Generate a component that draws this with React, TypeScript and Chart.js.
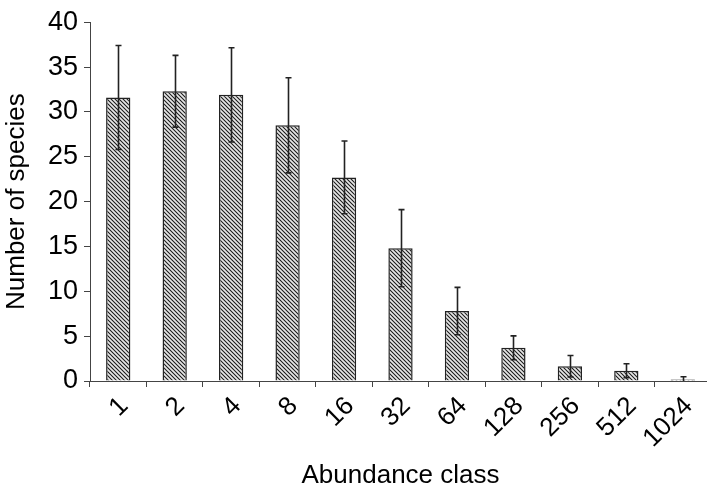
import React, { useEffect, useRef } from "react";
import { Chart, registerables } from "chart.js";

Chart.register(...registerables);

const categories = ["1", "2", "4", "8", "16", "32", "64", "128", "256", "512", "1024"];
const meanSpecies = [31.6, 32.3, 31.9, 28.5, 22.7, 14.8, 7.8, 3.7, 1.65, 1.15, 0.18];
const errorSpecies = [5.8, 4.0, 5.25, 5.3, 4.05, 4.3, 2.64, 1.33, 1.2, 0.77, 0.3];
const yMin = 0;
const yMax = 40;
const yStep = 5;

const FONT = "'Liberation Sans', Arial, Helvetica, sans-serif";
const INK = "#222";

function makePattern(): CanvasPattern | string {
  const c = document.createElement("canvas");
  c.width = 4;
  c.height = 4;
  const g = c.getContext("2d");
  if (!g) return "#999";
  g.fillStyle = "#e6e6e6";
  g.fillRect(0, 0, 4, 4);
  g.strokeStyle = "#1a1a1a";
  g.lineWidth = 1.05;
  const seg = (x1: number, y1: number, x2: number, y2: number) => {
    g.beginPath();
    g.moveTo(x1, y1);
    g.lineTo(x2, y2);
    g.stroke();
  };
  seg(-1, -1, 5, 5);
  seg(-1, 3, 1, 5);
  seg(3, -1, 5, 1);
  return g.createPattern(c, "repeat") || "#999";
}

const errorBarPlugin = {
  id: "errorBars",
  afterDatasetsDraw(chart: any) {
    const ctx = chart.ctx;
    const yScale = chart.scales.y;
    const meta = chart.getDatasetMeta(0);
    ctx.save();
    ctx.strokeStyle = INK;
    ctx.lineWidth = 1.6;
    meta.data.forEach((bar: any, i: number) => {
      const m = meanSpecies[i];
      const e = errorSpecies[i];
      const x = Math.round(bar.x) + 0.5;
      const yTop = yScale.getPixelForValue(m + e);
      const yBot = yScale.getPixelForValue(Math.max(m - e, 0));
      ctx.beginPath();
      ctx.moveTo(x, yTop);
      ctx.lineTo(x, yBot);
      ctx.moveTo(x - 3, yTop);
      ctx.lineTo(x + 3, yTop);
      if (m - e > 0) {
        ctx.moveTo(x - 3, yBot);
        ctx.lineTo(x + 3, yBot);
      }
      ctx.stroke();
    });
    ctx.restore();
  },
};

export default function App() {
  const ref = useRef<HTMLCanvasElement | null>(null);

  useEffect(() => {
    document.body.style.margin = "0";
    document.body.style.overflow = "hidden";
    if (!ref.current) return;
    const chart = new Chart(ref.current, {
      type: "bar",
      data: {
        labels: categories,
        datasets: [
          {
            data: meanSpecies,
            backgroundColor: makePattern() as any,
            borderColor: INK,
            borderWidth: 1.5,
            borderSkipped: "bottom",
            categoryPercentage: 1,
            barPercentage: 0.43,
          },
        ],
      },
      options: {
        responsive: false,
        animation: false,
        layout: { padding: { top: 17, left: 0, right: 0, bottom: 0 } },
        plugins: {
          legend: { display: false },
          tooltip: { enabled: false },
        },
        scales: {
          x: {
            type: "category",
            afterFit: (scale: any) => {
              scale.height = 108;
            },
            grid: {
              display: true,
              offset: true,
              drawOnChartArea: false,
              drawTicks: true,
              tickLength: 6,
              color: "#444",
            },
            border: { display: true, color: "#444", width: 1 },
            ticks: {
              minRotation: 45,
              maxRotation: 45,
              autoSkip: false,
              padding: 4,
              labelOffset: 6,
              color: "#000",
              font: { family: FONT, size: 26 },
            },
            title: {
              display: true,
              text: "Abundance class",
              color: "#000",
              font: { family: FONT, size: 26 },
              padding: { top: 0, bottom: -2 },
            },
          },
          y: {
            min: yMin,
            max: yMax,
            afterFit: (scale: any) => {
              scale.width = 90;
            },
            grid: {
              display: true,
              drawOnChartArea: false,
              drawTicks: true,
              tickLength: 6,
              color: "#444",
            },
            border: { display: true, color: "#444", width: 1 },
            ticks: {
              stepSize: yStep,
              padding: 6,
              color: "#000",
              font: { family: FONT, size: 27 },
            },
            title: {
              display: true,
              text: "Number of species",
              color: "#000",
              font: { family: FONT, size: 26 },
              padding: { top: 1, bottom: 0 },
            },
          },
        },
      },
      plugins: [errorBarPlugin],
    });
    return () => chart.destroy();
  }, []);

  return (
    <div style={{ position: "absolute", left: 0, top: 0, width: 707, height: 489, overflow: "hidden" }}>
      <canvas ref={ref} width={711} height={489} style={{ display: "block" }} />
    </div>
  );
}
